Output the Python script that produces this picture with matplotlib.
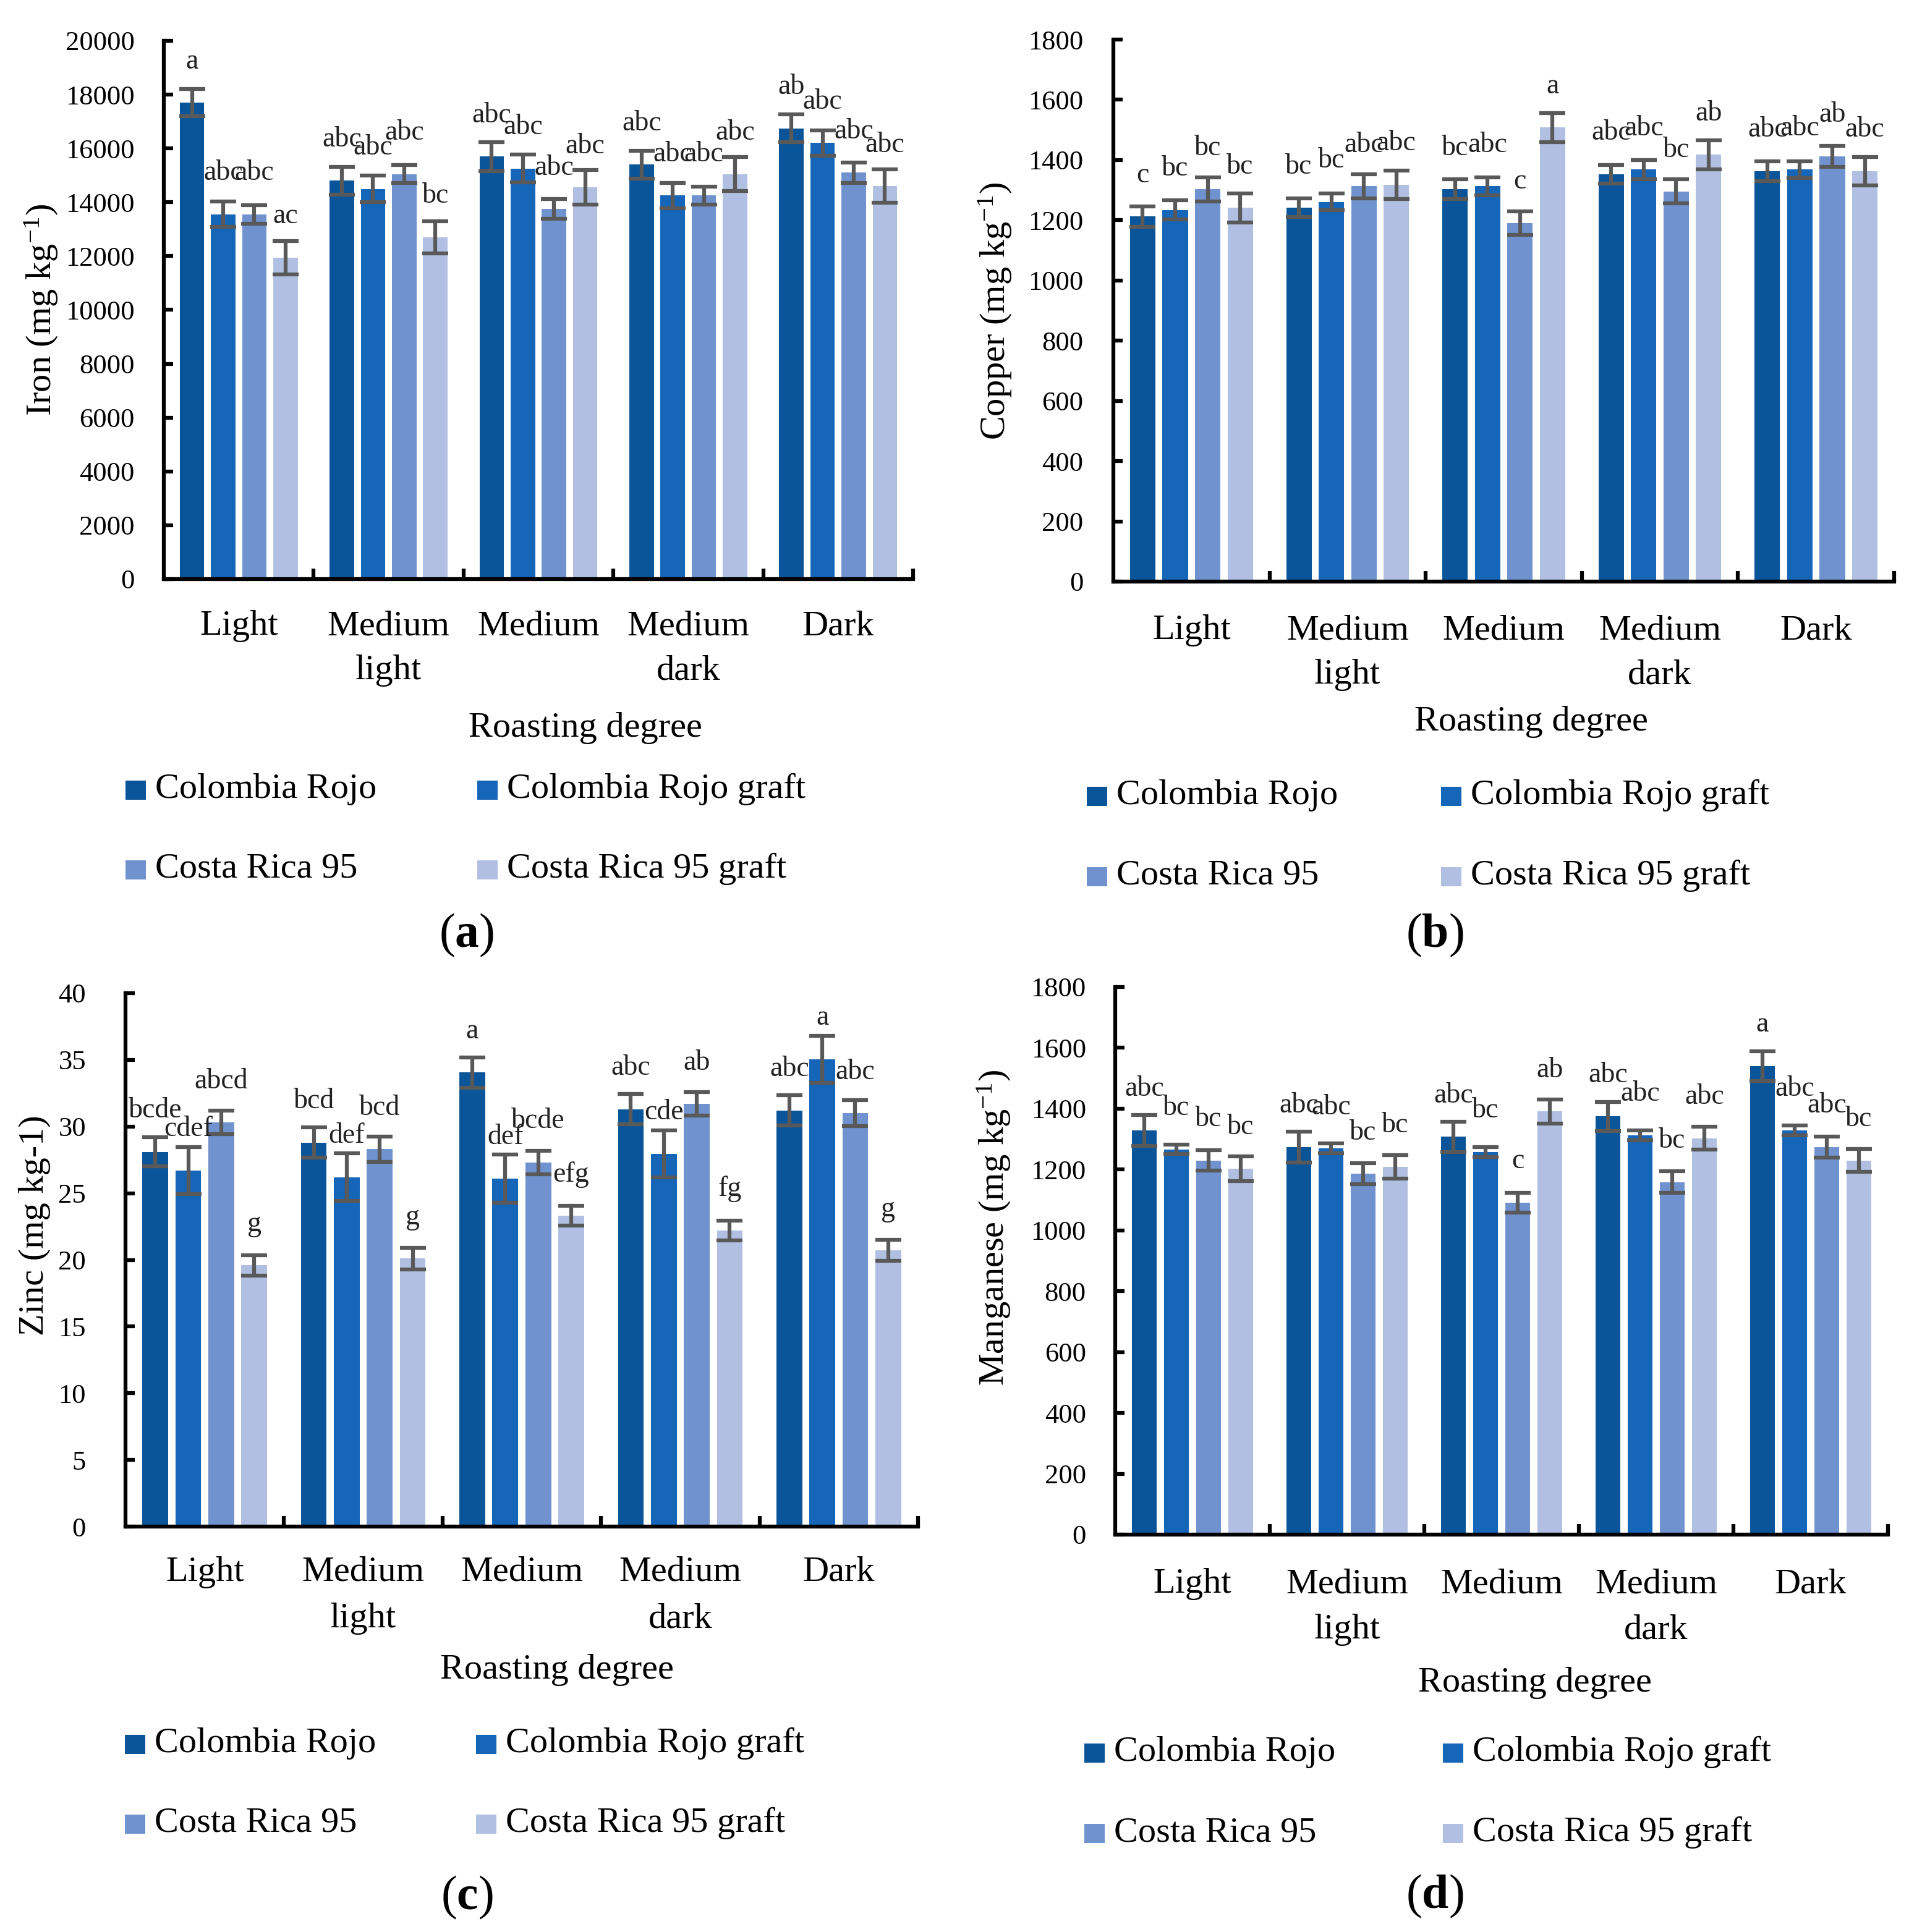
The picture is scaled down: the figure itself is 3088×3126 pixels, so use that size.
import matplotlib
matplotlib.use("Agg")
import matplotlib.pyplot as plt
from matplotlib.patches import Rectangle
from matplotlib.transforms import blended_transform_factory
import numpy as np

plt.rcParams['font.family'] = ['Liberation Serif', 'DejaVu Serif']
plt.rcParams['mathtext.fontset'] = 'custom'
plt.rcParams['mathtext.rm'] = 'Liberation Serif'
plt.rcParams['mathtext.bf'] = 'Liberation Serif:bold'
plt.rcParams['mathtext.it'] = 'Liberation Serif:italic'

# ---------------- data ----------------
categories = ["Light", "Medium\nlight", "Medium", "Medium\ndark", "Dark"]
series = ["Colombia Rojo", "Colombia Rojo graft", "Costa Rica 95", "Costa Rica 95 graft"]
colors = ["#0A5599", "#1565B8", "#7093D0", "#B1BFE2"]

# Iron (mg kg-1): rows = series, cols = categories
iron = [[17700, 14800, 15700, 15400, 16750],
        [13550, 14500, 15250, 14250, 16200],
        [13550, 15050, 13750, 14250, 15100],
        [11950, 12700, 14550, 15050, 14600]]
iron_err = [[500, 510, 540, 515, 520],
            [470, 500, 515, 480, 460],
            [350, 330, 370, 330, 370],
            [620, 600, 640, 625, 620]]
iron_lab = [["a", "abc", "abc", "abc", "ab"],
            ["abc", "abc", "abc", "abc", "abc"],
            ["abc", "abc", "abc", "abc", "abc"],
            ["ac", "bc", "abc", "abc", "abc"]]

copper = [[1212, 1241, 1303, 1353, 1363],
          [1234, 1261, 1313, 1368, 1368],
          [1303, 1313, 1191, 1296, 1412],
          [1241, 1318, 1508, 1418, 1363]]
copper_err = [[34, 31, 33, 31, 33],
              [32, 28, 30, 31, 28],
              [40, 40, 39, 40, 35],
              [48, 47, 48, 48, 47]]
copper_lab = [["c", "bc", "bc", "abc", "abc"],
              ["bc", "bc", "abc", "abc", "abc"],
              ["bc", "abc", "c", "bc", "ab"],
              ["bc", "abc", "a", "ab", "abc"]]

zinc = [[28.1, 28.8, 34.05, 31.3, 31.2],
        [26.7, 26.2, 26.1, 27.95, 35.05],
        [30.3, 28.3, 27.3, 31.7, 31.0],
        [19.6, 20.1, 23.3, 22.2, 20.7]]
zinc_err = [[1.1, 1.13, 1.12, 1.14, 1.13],
            [1.76, 1.79, 1.79, 1.76, 1.77],
            [0.89, 0.96, 0.86, 0.87, 0.96],
            [0.77, 0.82, 0.74, 0.76, 0.79]]
zinc_lab = [["bcde", "bcd", "a", "abc", "abc"],
            ["cdef", "def", "def", "cde", "a"],
            ["abcd", "bcd", "bcde", "ab", "abc"],
            ["g", "g", "efg", "fg", "g"]]

manganese = [[1329, 1274, 1308, 1375, 1540],
             [1266, 1269, 1258, 1313, 1329],
             [1230, 1186, 1091, 1159, 1274],
             [1203, 1209, 1391, 1303, 1230]]
manganese_err = [[51, 50, 50, 48, 49],
                 [15, 16, 16, 16, 16],
                 [33, 34, 33, 36, 34],
                 [40, 39, 39, 38, 38]]
manganese_lab = [["abc", "abc", "abc", "abc", "a"],
                 ["bc", "abc", "bc", "abc", "abc"],
                 ["bc", "bc", "c", "bc", "abc"],
                 ["bc", "bc", "ab", "abc", "bc"]]

ylabels = [r"Iron (mg kg$^{\mathrm{-1}}$)", r"Copper (mg kg$^{\mathrm{-1}}$)",
           "Zinc (mg kg-1)", r"Manganese (mg kg$^{\mathrm{-1}}$)"]
ymax = [20000, 1800, 40, 1800]
ystep = [2000, 200, 5, 200]
panel_letters = ["a", "b", "c", "d"]
xlabel = "Roasting degree"

# ---------------- layout (pixels) ----------------
W, H = 3088, 3126
DPI = 100
fig = plt.figure(figsize=(W / DPI, H / DPI), dpi=DPI)

def fx(x):
    return x / W

def fy(y):
    return 1 - y / H

panels = [
    dict(box=(265, 66, 1477, 937), ypad=34, ylab=(67, 502), line1=1027, line2=1099,
         xt=(947, 1192), leg_x=(203, 772), leg_y=(1291, 1420), letter=(755, 1513)),
    dict(box=(1801, 64, 3064, 941), ypad=35, ylab=(1610, 503), line1=1034, line2=1106,
         xt=(2477, 1182), leg_x=(1758, 2331), leg_y=(1301, 1431), letter=(2321, 1513)),
    dict(box=(203, 1607, 1485, 2470), ypad=46, ylab=(56, 1983), line1=2558, line2=2633,
         xt=(901, 2716), leg_x=(202, 770), leg_y=(2835, 2964), letter=(755, 3070)),
    dict(box=(1804, 1597, 3054, 2483), ypad=34, ylab=(1608, 1986), line1=2577, line2=2651,
         xt=(2483, 2737), leg_x=(1754, 2334), leg_y=(2849, 2979), letter=(2321, 3068)),
]

datasets = [(iron, iron_err, iron_lab), (copper, copper_err, copper_lab),
            (zinc, zinc_err, zinc_lab), (manganese, manganese_err, manganese_lab)]

x = np.arange(len(categories))
bw = 0.163
offsets = [-0.312, -0.104, 0.104, 0.312]
big = 42
tick_fs = 32
lab_fs = 33

for p, (vals, errs, labs), ylab, ym, ys, let in zip(panels, datasets, ylabels, ymax, ystep, panel_letters):
    l, t, r, b = p['box']
    ax = fig.add_axes([fx(l), fy(b), (r - l) / W, (b - t) / H])
    for i in range(4):
        ax.bar(x + offsets[i], vals[i], width=bw, color=colors[i], zorder=2)
        ax.errorbar(x + offsets[i], vals[i], yerr=errs[i], fmt='none', ecolor='#595959',
                    elinewidth=4.5, capsize=15, capthick=4.5, zorder=3)
        for j in range(len(categories)):
            ax.annotate(labs[i][j], (x[j] + offsets[i], vals[i][j]), xytext=(0, 40),
                        textcoords='offset points', ha='center', va='baseline',
                        fontsize=lab_fs, color='#222222', zorder=4)
    ax.set_xlim(-0.5, len(categories) - 0.5)
    ax.set_ylim(0, ym)
    ax.set_yticks(np.arange(0, ym + ys / 2, ys))
    ax.set_xticks(np.arange(0.5, len(categories), 1.0))
    ax.set_xticklabels([])
    for s in ['top', 'right']:
        ax.spines[s].set_visible(False)
    for s in ['left', 'bottom']:
        ax.spines[s].set_linewidth(4.5)
        ax.spines[s].set_capstyle('projecting')
    ax.tick_params(axis='y', direction='in', length=11, width=4.5, labelsize=tick_fs, pad=p['ypad'])
    ax.tick_params(axis='x', direction='in', length=12, width=4.5)
    ax.set_facecolor('none')

    # category labels (one text per line)
    tr = blended_transform_factory(ax.transData, fig.transFigure)
    for j, cat in enumerate(categories):
        lines = cat.split("\n")
        ax.text(x[j], fy(p['line1']), lines[0], transform=tr, ha='center', va='baseline',
                fontsize=big)
        if len(lines) > 1:
            ax.text(x[j], fy(p['line2']), lines[1], transform=tr, ha='center', va='baseline',
                    fontsize=big)

    # axis titles
    fig.text(fx(p['ylab'][0]), fy(p['ylab'][1]), ylab, rotation=90, ha='center', va='center',
             fontsize=big)
    fig.text(fx(p['xt'][0]), fy(p['xt'][1]), xlabel, ha='center', va='baseline', fontsize=big)

    # legend
    for i, name in enumerate(series):
        col = i % 2
        row = i // 2
        lx = p['leg_x'][col]
        by = p['leg_y'][row]
        fig.patches.append(Rectangle((fx(lx), fy(by + 3)), 33 / W, 31 / H,
                                     transform=fig.transFigure, facecolor=colors[i],
                                     edgecolor='none'))
        fig.text(fx(lx + 48), fy(by), name, ha='left', va='baseline', fontsize=big)

    # panel letter
    fig.text(fx(p['letter'][0]), fy(p['letter'][1]), "($\\mathbf{%s}$)" % let,
             ha='center', va='center', fontsize=56)

fig.savefig("out.png", dpi=DPI, facecolor='white')
